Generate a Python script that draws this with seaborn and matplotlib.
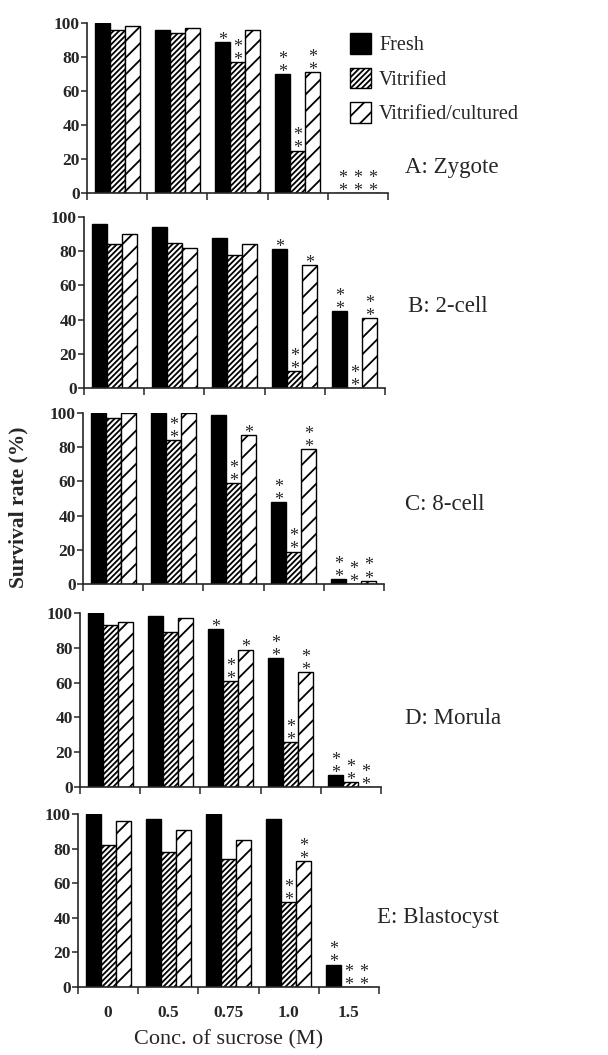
import numpy as np
import pandas as pd
import matplotlib
matplotlib.use("Agg")
import matplotlib.pyplot as plt
import seaborn as sns

# ---------------- data ----------------
concs = ["0", "0.5", "0.75", "1.0", "1.5"]
groups = ["Fresh", "Vitrified", "Vitrified/cultured"]
stages = ["A: Zygote", "B: 2-cell", "C: 8-cell", "D: Morula", "E: Blastocyst"]

zygote_fresh = [100, 96, 89, 70, 0]
zygote_vit = [96, 94, 77, 25, 0]
zygote_vc = [98, 97, 96, 71, 0]

cell2_fresh = [96, 94, 88, 81, 45]
cell2_vit = [84, 85, 78, 10, 0]
cell2_vc = [90, 82, 84, 72, 41]

cell8_fresh = [100, 100, 99, 48, 3]
cell8_vit = [97, 84, 59, 19, 0]
cell8_vc = [100, 100, 87, 79, 2]

morula_fresh = [100, 98, 91, 74, 7]
morula_vit = [93, 89, 61, 26, 3]
morula_vc = [95, 97, 79, 66, 0]

blast_fresh = [100, 97, 100, 97, 13]
blast_vit = [82, 78, 74, 49, 0]
blast_vc = [96, 91, 85, 73, 0]

# significance marks (per group, per concentration)
zygote_sig = [["", "", "*", "**", "**"], ["", "", "**", "**", "**"], ["", "", "", "**", "**"]]
cell2_sig = [["", "", "", "*", "**"], ["", "", "", "**", "**"], ["", "", "", "*", "**"]]
cell8_sig = [["", "", "", "**", "**"], ["", "**", "**", "**", "**"], ["", "", "*", "**", "**"]]
morula_sig = [["", "", "*", "**", "**"], ["", "", "**", "**", "**"], ["", "", "*", "**", "**"]]
blast_sig = [["", "", "", "", "**"], ["", "", "", "**", "**"], ["", "", "", "**", "**"]]

values = {
    stages[0]: [zygote_fresh, zygote_vit, zygote_vc],
    stages[1]: [cell2_fresh, cell2_vit, cell2_vc],
    stages[2]: [cell8_fresh, cell8_vit, cell8_vc],
    stages[3]: [morula_fresh, morula_vit, morula_vc],
    stages[4]: [blast_fresh, blast_vit, blast_vc],
}
sigs = {
    stages[0]: zygote_sig, stages[1]: cell2_sig, stages[2]: cell8_sig,
    stages[3]: morula_sig, stages[4]: blast_sig,
}

rows = []
for st in stages:
    for g, vals in zip(groups, values[st]):
        for c, v in zip(concs, vals):
            rows.append({"stage": st, "group": g, "conc": c, "rate": v})
df = pd.DataFrame(rows)

# ---------------- style ----------------
sns.set_theme(style="ticks")
plt.rcParams["font.family"] = ["Liberation Serif", "DejaVu Serif"]
plt.rcParams["hatch.linewidth"] = 1.3
plt.rcParams["axes.linewidth"] = 1.2

W, H = 608, 1055
fig = plt.figure(figsize=(W / 100, H / 100), dpi=100)

# panel geometry in pixels: (left, top of 100, bottom of 0)
geo = [(87, 23, 193), (84, 217, 388), (83, 413, 584), (80, 613, 787), (78, 814, 987)]
label_pos = [(405, 167), (408, 307), (405, 505), (405, 718), (377, 917)]
hatches = ["", "//////", "//"]
axes = []
for i, st in enumerate(stages):
    l, t, b = geo[i]
    ax = fig.add_axes([l / W, 1 - b / H, 301 / W, (b - t) / H])
    axes.append(ax)
    sub = df[df["stage"] == st]
    sns.barplot(data=sub, x="conc", y="rate", hue="group", order=concs,
                hue_order=groups, palette=["black", "white", "white"],
                saturation=1, edgecolor="black", linewidth=1.0, width=0.75,
                gap=0, errorbar=None, legend=False, ax=ax)
    for gi, cont in enumerate(ax.containers):
        for bar in cont:
            bar.set_hatch(hatches[gi])
            xc = bar.get_x() + bar.get_width() / 2
            ci = int(round(xc))
            s = sigs[st][gi][ci]
            if s:
                ax.annotate("\n".join(["*"] * len(s)), (xc, bar.get_height()),
                            xytext=(0, -5), textcoords="offset points",
                            ha="center", va="bottom", fontsize=13,
                            linespacing=0.7, annotation_clip=False)
    ax.set_xlim(-0.5, 4.5)
    ax.set_ylim(0, 100)
    ax.set_yticks(np.arange(0, 101, 20))
    ax.set_xticks(np.arange(-0.5, 5, 1), minor=True)
    ax.tick_params(axis="x", which="major", length=0, pad=13)
    ax.tick_params(axis="x", which="minor", length=5, width=1.1, direction="out")
    ax.tick_params(axis="y", length=4, width=1.1, pad=1)
    for lab in ax.get_yticklabels():
        lab.set_fontsize(12.5)
        lab.set_fontweight("bold")
    if i < 4:
        ax.tick_params(axis="x", labelbottom=False)
    else:
        for lab in ax.get_xticklabels():
            lab.set_fontsize(12.5)
            lab.set_fontweight("bold")
    ax.set_xlabel("")
    ax.set_ylabel("")
    sns.despine(ax=ax)
    fig.text(label_pos[i][0] / W, 1 - label_pos[i][1] / H, st, ha="left",
             va="center", fontsize=16.5)

handles = [axes[0].containers[g][0] for g in range(3)]
fig.legend(handles=handles, labels=groups, loc="upper left",
           bbox_to_anchor=(350 / W, 1 - 33 / H), frameon=False,
           handlelength=1.05, handleheight=1.2, handletextpad=0.4,
           labelspacing=0.62, borderpad=0, borderaxespad=0, fontsize=14.5)

fig.text(18 / W, 1 - 507 / H, "Survival rate (%)", rotation=90, ha="center",
         va="center", fontsize=15.5, fontweight="bold")
fig.text(229 / W, 1 - 1040 / H, "Conc. of sucrose (M)", ha="center",
         va="center", fontsize=16)

fig.savefig("out.png", dpi=100)
